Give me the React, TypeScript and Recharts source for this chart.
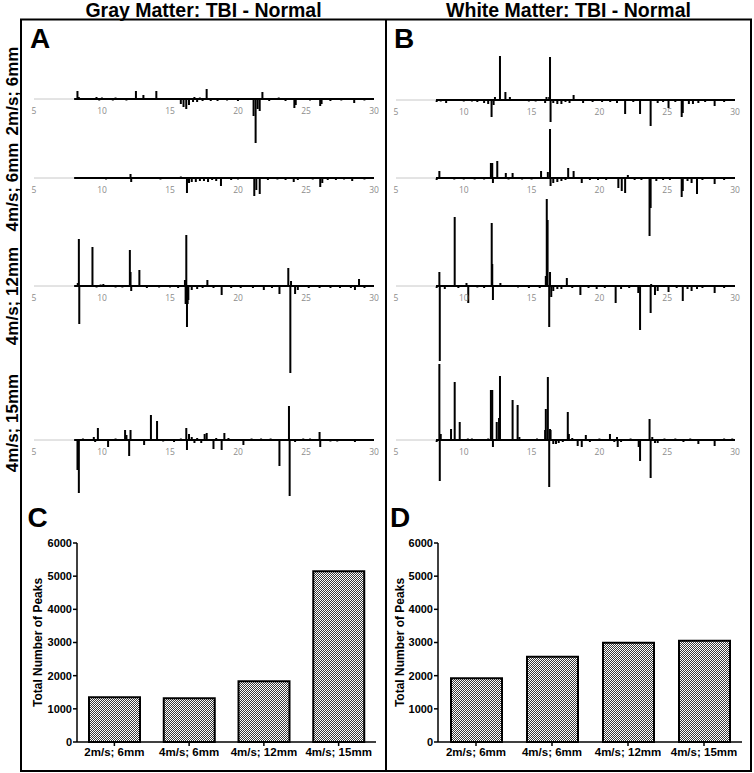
import React from 'react'
import { BarChart, Bar, XAxis, YAxis, ReferenceLine, ReferenceDot } from 'recharts'

type Peak = [number, number]

const conditions = ['2m/s; 6mm', '4m/s; 6mm', '4m/s; 12mm', '4m/s; 15mm']
const spectrumTicks = [5, 10, 15, 20, 25, 30]
const countTicks = [0, 1000, 2000, 3000, 4000, 5000, 6000]

// total peak counts per condition
const gmPeakCounts = [1350, 1320, 1830, 5150]
const wmPeakCounts = [1920, 2570, 2990, 3050]

// difference spectra, [ppm, relative intensity]
const gm2ms6: Peak[] = [
  [8.2, 8], [8.3, 2], [9.6, 2], [9.8, -1.5], [10.0, 1.5], [10.8, -1.5], [11.0, 1.5], [11.8, -1.5],
  [12.5, 8], [13.05, 4], [14.0, 8], [15.8, -5], [16.0, -8], [16.2, -10], [16.4, -6], [16.7, -3],
  [16.8, 2], [17.0, -3], [17.2, 1.5], [17.4, -2], [17.7, 10], [18.0, -2], [18.5, -2], [19.2, -1.5],
  [20.0, -2], [21.15, -17], [21.3, -44], [21.45, -10], [21.6, -12], [21.8, 7], [22.3, -2], [23.0, 1.5],
  [23.5, -2], [24.15, -9], [24.25, -6], [25.3, -1.5], [26.05, -7], [26.15, -5], [26.8, -2], [27.6, -1.5],
  [28.55, -4], [29.3, -1.5],
]

const gm4ms6: Peak[] = [
  [8.1, 1], [9.5, 1], [10.3, -1.5], [12.1, 4], [12.15, -4], [14.3, -1.5], [15.2, 1], [15.8, 1.5],
  [16.25, -15], [16.4, -5], [16.6, -4], [16.9, -4], [17.2, -3], [17.5, -3], [17.8, -4], [18.1, -2],
  [18.4, -3], [18.75, -8], [19.5, -2], [20.0, -1.5], [21.2, -18], [21.35, -12], [21.6, -16], [22.2, -2],
  [22.9, -1.5], [23.5, -2], [24.1, -4], [24.4, -2], [25.5, -1.5], [26.05, -9], [26.2, -5], [26.6, -2],
  [27.2, -2], [27.8, -1.5], [28.4, -3], [29.3, -1.5],
]

const gm4ms12: Peak[] = [
  [8.22, 3], [8.3, 47], [8.33, -38], [9.3, 39], [9.6, -1.5], [9.9, 1.5], [10.1, 2], [11.0, -1.5],
  [11.5, -1.5], [12.05, 36], [12.1, 14], [12.15, -5], [12.75, 16], [13.3, -2], [14.2, -1.5], [15.0, -1.5],
  [15.6, -2], [16.1, 6], [16.15, -18], [16.2, 51], [16.25, -41], [16.3, -18], [16.35, -14], [16.6, -4],
  [17.0, -3], [17.4, -2], [17.75, 6], [18.2, -2], [18.8, -9], [19.5, -2], [20.2, -2], [21.1, -2],
  [21.9, -4], [22.5, -2], [23.05, -8], [23.7, 18], [23.85, -87], [23.9, 5], [24.2, -8], [24.4, -4],
  [25.2, -2], [26.0, -2], [26.8, -2], [27.5, -2], [28.3, -2], [28.6, -4], [28.9, 7], [29.3, -2],
]

const gm4ms15: Peak[] = [
  [8.2, -30], [8.3, -53], [8.6, 1.5], [9.4, 3], [9.5, -2], [9.7, 12], [10.45, -7], [11.0, 1.5],
  [11.7, 10], [11.8, 5], [12.0, -16], [12.1, 10], [13.1, -5], [13.6, 25], [14.05, 19], [14.5, -1.5],
  [15.3, -2], [15.8, 1.5], [16.2, 12], [16.25, -10], [16.4, 6], [16.6, 3], [16.8, -3], [17.0, 2],
  [17.3, -3], [17.55, 6], [17.7, 7], [18.2, -9], [18.4, 2], [18.8, -10], [19.0, 7], [19.3, 2],
  [20.4, -5], [21.0, 1.5], [21.7, 1.5], [22.4, 1.5], [23.05, -26], [23.75, 34], [23.8, -56], [24.2, -2],
  [24.8, 1.5], [25.3, 1.5], [26.0, 8], [26.05, -7], [26.8, -1.5], [27.3, -1.5], [28.6, -2], [29.3, 1],
]

const wm2ms6: Peak[] = [
  [8.0, -2], [8.3, -1.5], [8.7, -3], [10.0, -1.5], [10.6, -1.5], [11.0, -2], [11.5, -3], [11.8, -4],
  [12.05, -17], [12.2, -5], [12.3, 3], [12.67, 44], [13.07, 8], [13.4, 3], [14.8, -1.5], [15.3, -1.5],
  [16.0, -3], [16.1, 3], [16.3, 3], [16.36, 43], [16.4, -22], [16.6, -3], [16.9, -4], [17.2, -4],
  [17.5, -2], [17.8, -3], [18.1, 5], [18.8, -3], [19.5, -2], [20.2, -2], [20.8, -2], [21.3, -3],
  [21.9, -14], [22.5, -2], [23.0, -14], [23.78, -26], [24.3, -3], [24.7, -2], [25.1, -8], [25.6, -2],
  [26.07, -17], [26.15, -13], [26.6, -4], [26.9, -4], [27.3, -3], [27.8, -2], [28.5, -6], [29.2, -2],
]

const wm4ms6: Peak[] = [
  [8.0, -2], [8.2, 7], [9.3, -1.5], [10.0, -1.5], [10.8, -1.5], [11.5, -1.5], [12.0, 15], [12.1, 15],
  [12.15, -5], [12.47, 17], [13.1, 5], [13.3, -1.5], [13.6, 5], [14.3, -1.5], [15.0, -1.5], [15.7, 7],
  [16.2, 6], [16.36, 49], [16.4, -8], [16.6, -5], [16.9, -4], [17.2, -3], [17.5, -2], [17.7, 10],
  [18.1, 7], [18.7, -5], [19.3, -2], [19.9, -2], [20.5, -2], [21.4, -10], [21.65, -13], [21.9, -15],
  [22.1, 3], [22.6, -2], [23.1, -2], [23.7, -58], [23.78, -30], [24.2, -3], [24.7, -2], [25.2, -2],
  [26.07, -19], [26.15, -13], [26.5, -3], [26.8, -5], [27.2, -16], [27.6, -2], [28.5, -6], [29.2, -2],
]

const wm4ms12: Peak[] = [
  [8.0, -2], [8.2, 14], [8.23, -75], [8.6, -3], [9.33, 69], [9.6, -2], [10.2, 3], [10.33, -17],
  [11.0, -1.5], [11.5, -2], [12.06, 63], [12.1, 22], [12.15, -14], [12.7, 3], [14.0, -1.5], [14.8, -2],
  [15.6, -2], [16.05, 10], [16.12, 87], [16.18, 66], [16.3, -41], [16.36, 14], [16.45, -11], [16.6, -5],
  [16.9, -3], [17.2, -3], [17.6, 8], [18.0, -2], [18.6, -9], [19.2, -2], [19.8, -3], [20.4, -2],
  [21.2, -17], [21.6, -3], [22.2, -2], [22.87, -7], [23.0, -44], [23.78, -27], [23.82, 2], [24.1, -9],
  [24.3, -5], [25.1, -6], [25.7, -2], [26.15, -15], [26.5, -3], [26.8, -5], [27.2, -3], [27.6, -2],
  [28.5, -7], [29.2, -2],
]

const wm4ms15: Peak[] = [
  [8.0, -2], [8.2, 76], [8.23, -41], [8.3, 6], [9.06, 11], [9.33, 58], [9.7, 18], [10.3, 1.5],
  [10.6, 1.5], [11.8, 1.5], [12.0, 50], [12.1, 50], [12.15, -7], [12.43, 18], [12.6, 22], [12.67, 64],
  [13.6, 40], [13.97, 35], [14.1, 3], [15.4, 1.5], [16.0, 10], [16.05, 31], [16.2, 63], [16.3, -47],
  [16.36, 11], [16.4, 10], [16.6, -4], [16.8, -4], [17.0, -3], [17.3, -2], [17.67, 28], [17.75, 6],
  [18.0, 2], [18.4, -6], [18.7, -7], [19.0, 5], [19.3, -2], [20.0, 1.5], [20.78, 6], [21.1, -2],
  [21.3, 3], [21.35, -7], [21.6, -2], [22.3, 1.5], [22.9, -7], [23.0, -21], [23.7, 21], [23.78, -38],
  [23.9, 3], [24.1, -3], [24.3, -3], [24.8, 1.5], [25.6, 1.5], [26.2, -2], [26.7, 1.5], [27.3, -4],
  [28.5, -6], [29.2, 1.5], [29.8, 1.5],
]

const gmSpectra = [gm2ms6, gm4ms6, gm4ms12, gm4ms15]
const wmSpectra = [wm2ms6, wm4ms6, wm4ms12, wm4ms15]

const arial = "'Liberation Sans', Arial, sans-serif"
const gmBaselines = [99.3, 178.4, 286.4, 440.3]
const wmBaselines = [99.8, 178, 286, 440]
const rowLabelCenters = [91, 187, 296, 423]

// fixed 2px stick centred on the bar slot, whatever width recharts computes
function PeakStick(props: any) {
  const { x, y, width, height } = props
  if (x == null || y == null) return null
  const cx = x + width / 2
  const top = Math.min(y, y + height)
  return <rect x={cx - 1} y={top} width={2} height={Math.max(Math.abs(height), 0.5)} fill="#000" />
}

function Spectrum({ peaks, left, width, baseline }: { peaks: Peak[]; left: number; width: number; baseline: number }) {
  const data = peaks.map(([x, y]) => ({ x, y }))
  const pad = 12
  return (
    <div style={{ position: 'absolute', left: left - pad, top: baseline - 100, width: width + 2 * pad, height: 200 }}>
      <BarChart width={width + 2 * pad} height={200} data={data} margin={{ top: 0, right: pad, bottom: 0, left: pad }}>
        <XAxis type="number" dataKey="x" domain={[5, 30]} hide allowDataOverflow />
        <YAxis type="number" domain={[-100, 100]} hide allowDataOverflow />
        <ReferenceLine segment={[{ x: 5, y: 0 }, { x: 7.95, y: 0 }]} stroke="#c8c8c8" strokeWidth={1} />
        <ReferenceLine segment={[{ x: 7.95, y: 0 }, { x: 30, y: 0 }]} stroke="#000" strokeWidth={2} />
        <Bar dataKey="y" fill="#000" barSize={2} shape={<PeakStick />} isAnimationActive={false} />
        {spectrumTicks.map((t) => (
          <ReferenceDot
            key={t}
            x={t}
            y={0}
            r={0}
            fill="none"
            stroke="none"
            label={{ value: String(t), position: 'bottom', offset: 9, fill: '#8c8c8c', fontSize: 8.5, fontFamily: "'Open Sans', sans-serif" }}
          />
        ))}
      </BarChart>
    </div>
  )
}

function PeakCountChart({ values, left, yAxisWidth, width, patternId }: { values: number[]; left: number; yAxisWidth: number; width: number; patternId: string }) {
  const data = conditions.map((name, i) => ({ name, count: values[i] }))
  return (
    <div style={{ position: 'absolute', left, top: 530 }}>
      <BarChart width={width} height={237} data={data} margin={{ top: 13, right: 5, bottom: 0, left: 0 }}>
        <defs>
          <pattern id={patternId} width={2} height={2} patternUnits="userSpaceOnUse">
            <rect width={2} height={2} fill="#fff" />
            <rect width={1} height={1} fill="#3a3a3a" />
            <rect x={1} y={1} width={1} height={1} fill="#3a3a3a" />
          </pattern>
        </defs>
        <XAxis
          dataKey="name"
          interval={0}
          height={25}
          tickSize={4}
          tickMargin={2}
          axisLine={{ stroke: '#000', strokeWidth: 1.5 }}
          tickLine={{ stroke: '#000', strokeWidth: 1.5 }}
          tick={{ fill: '#000', fontSize: 11.5, fontWeight: 'bold', fontFamily: arial }}
        />
        <YAxis
          domain={[0, 6000]}
          ticks={countTicks}
          width={yAxisWidth}
          tickSize={4}
          tickMargin={1}
          axisLine={{ stroke: '#000', strokeWidth: 1.5 }}
          tickLine={{ stroke: '#000', strokeWidth: 1.5 }}
          tick={{ fill: '#000', fontSize: 11, fontWeight: 'bold', fontFamily: arial }}
        />
        <Bar dataKey="count" fill={`url(#${patternId})`} stroke="#000" strokeWidth={2} barSize={51} isAnimationActive={false} />
      </BarChart>
    </div>
  )
}

export default function App() {
  return (
    <div style={{ position: 'absolute', left: 0, top: 0, width: 754, height: 773, background: '#fff', overflow: 'hidden' }}>
      <svg width={754} height={773} style={{ position: 'absolute', left: 0, top: 0 }}>
        <rect x={21} y={19.5} width={730} height={751.5} fill="none" stroke="#000" strokeWidth={2} />
        <line x1={386} y1={19.5} x2={386} y2={771} stroke="#000" strokeWidth={2} />
        <g fontFamily={arial} fontWeight="bold" fill="#000">
          <text x={203.5} y={16.5} fontSize={19.5} textAnchor="middle">Gray Matter: TBI - Normal</text>
          <text x={568.5} y={16.5} fontSize={19.5} textAnchor="middle">White Matter: TBI - Normal</text>
          {conditions.map((c, i) => (
            <text key={c} x={17.5} y={rowLabelCenters[i]} fontSize={17} textAnchor="middle" transform={`rotate(-90 17.5 ${rowLabelCenters[i]})`}>
              {c}
            </text>
          ))}
          <text x={30} y={48} fontSize={28}>A</text>
          <text x={394} y={48} fontSize={28}>B</text>
          <text x={27.5} y={527} fontSize={28}>C</text>
          <text x={390} y={527} fontSize={28}>D</text>
          <text x={42} y={642.5} fontSize={12} textAnchor="middle" transform="rotate(-90 42 642.5)">Total Number of Peaks</text>
          <text x={404} y={642.5} fontSize={12} textAnchor="middle" transform="rotate(-90 404 642.5)">Total Number of Peaks</text>
        </g>
      </svg>
      {gmSpectra.map((p, i) => (
        <Spectrum key={`gm${i}`} peaks={p} left={33.5} width={340} baseline={gmBaselines[i]} />
      ))}
      {wmSpectra.map((p, i) => (
        <Spectrum key={`wm${i}`} peaks={p} left={396} width={339} baseline={wmBaselines[i]} />
      ))}
      <PeakCountChart values={gmPeakCounts} left={21} yAxisWidth={56} width={360} patternId="gmHatch" />
      <PeakCountChart values={wmPeakCounts} left={387} yAxisWidth={51} width={360} patternId="wmHatch" />
    </div>
  )
}
